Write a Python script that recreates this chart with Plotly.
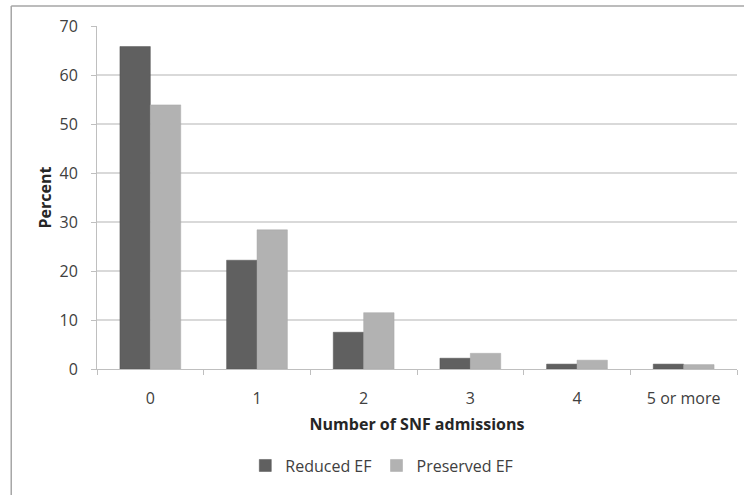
import plotly.graph_objects as go

categories = ["0", "1", "2", "3", "4", "5 or more"]
reduced_ef = [65.8, 22.2, 7.5, 2.2, 1.0, 1.0]
preserved_ef = [53.9, 28.4, 11.5, 3.2, 1.8, 0.9]
y_ticks = [0, 10, 20, 30, 40, 50, 60, 70]

FONT = "Open Sans, Liberation Sans, sans-serif"

fig = go.Figure()
fig.add_trace(go.Bar(x=categories, y=reduced_ef, name="Reduced EF",
                     marker=dict(color="#606060", line=dict(color="#555555", width=0.5))))
fig.add_trace(go.Bar(x=categories, y=preserved_ef, name="Preserved EF",
                     marker=dict(color="#b2b2b2", line=dict(color="#a8a8a8", width=0.5))))

border = dict(color="#a6a6a6", width=1.5)
fig.update_layout(
    width=744, height=495,
    margin=dict(l=97, r=7, t=26, b=126),
    paper_bgcolor="white", plot_bgcolor="white",
    font=dict(family=FONT, size=16, color="#404040"),
    barmode="group", bargap=0.43, bargroupgap=0,
    showlegend=True,
    legend=dict(orientation="h", x=0.445, xanchor="center", y=-0.232, yanchor="top",
                font=dict(size=16, color="#404040"), tracegroupgap=0),
    xaxis=dict(
        showline=True, linecolor="#bfbfbf", linewidth=1,
        ticks="outside", tickson="boundaries", ticklen=5, tickcolor="#bfbfbf",
        showgrid=False, ticklabelstandoff=15,
        title=dict(text="<b>Number of SNF admissions</b>", font=dict(size=16, color="#262626"), standoff=10),
    ),
    yaxis=dict(
        range=[0, 70], tickvals=y_ticks,
        showline=True, linecolor="#bfbfbf", linewidth=1,
        ticks="outside", ticklen=5, tickcolor="#bfbfbf",
        showgrid=True, gridcolor="#d9d9d9", gridwidth=1.5,
        zeroline=False, ticklabelstandoff=10,
        title=dict(text="<b>Percent</b>", font=dict(size=16, color="#262626"), standoff=3),
    ),
    shapes=[
        dict(type="line", xref="paper", yref="paper", x0=-0.134, x1=1.2, y0=1.058, y1=1.058,
             line=border, layer="below"),
        dict(type="line", xref="paper", yref="paper", x0=-0.134, x1=-0.134, y0=-0.6, y1=1.058,
             line=border, layer="below"),
    ],
)

fig.write_html("out.html", config={"displayModeBar": False},
               post_script="document.body.style.margin='0';")
